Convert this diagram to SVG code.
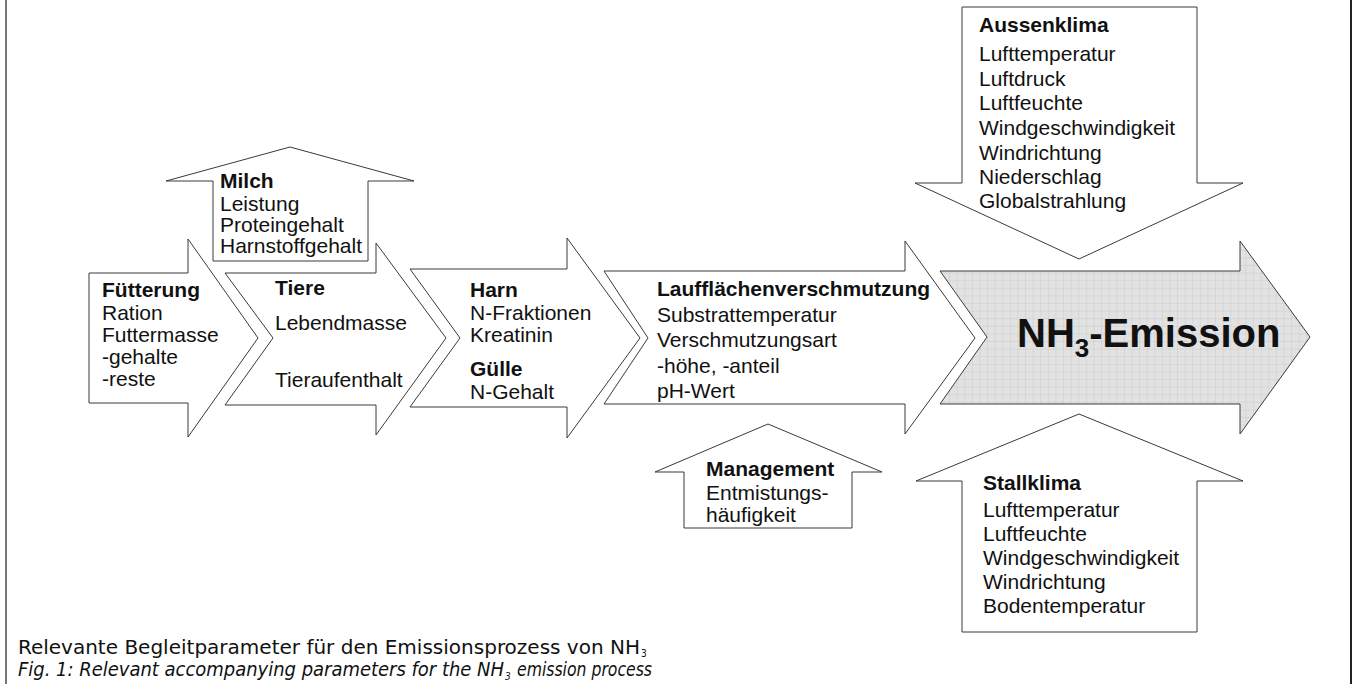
<svg xmlns="http://www.w3.org/2000/svg" width="1358" height="684" viewBox="0 0 1358 684">
<defs>
<pattern id="grid" width="7.6" height="7.6" patternUnits="userSpaceOnUse">
<rect width="7.6" height="7.6" fill="#e2e2e2"/>
<path d="M7.6 0V7.6M0 7.6H7.6" stroke="#c6c6c6" stroke-width="0.8" fill="none"/>
</pattern>
</defs>
<style>
.a{fill:#fff;stroke:#3a3a3a;stroke-width:1}
.t{font-family:"Liberation Sans",Arial,sans-serif;font-size:21px;fill:#111}
.b{font-weight:bold}
.cap{font-family:"Liberation Sans Narrow","DejaVu Sans Condensed","Liberation Sans",sans-serif;font-stretch:condensed;font-size:19px;fill:#111}
.sub{font-family:"Liberation Sans Narrow","DejaVu Sans Condensed","Liberation Sans",sans-serif;font-size:10px;fill:#111}
</style>
<rect width="1358" height="684" fill="#fff"/>
<g id="frame">
<line x1="6" y1="0" x2="6" y2="684" stroke="#777" stroke-width="2"/>
<line x1="1351" y1="0" x2="1351" y2="684" stroke="#222" stroke-width="2"/>
</g>
<g id="connectors"></g>
<g id="fuetterung">
<polygon class="a" points="89,273 188,273 188,239 258,338 188,437 188,403 89,403"/>
<text class="t" x="102" y="297"><tspan class="b">Fütterung</tspan><tspan x="102" y="320">Ration</tspan><tspan x="102" y="342">Futtermasse</tspan><tspan x="102" y="364">-gehalte</tspan><tspan x="102" y="386">-reste</tspan></text>
</g>
<g id="milch">
<polygon class="a" points="213,261 213,181 166,181 290,147 414,181 368,181 368,261"/>
<text class="t" x="220" y="188"><tspan class="b">Milch</tspan><tspan x="220" y="211">Leistung</tspan><tspan x="220" y="232">Proteingehalt</tspan><tspan x="220" y="253">Harnstoffgehalt</tspan></text>
</g>
<g id="tiere">
<polygon class="a" points="225,273 376,273 376,243 446,338 376,435 376,405 225,405 273,338"/>
<text class="t" x="275" y="295"><tspan class="b">Tiere</tspan><tspan x="275" y="330">Lebendmasse</tspan><tspan x="275" y="387">Tieraufenthalt</tspan></text>
</g>
<g id="harn">
<polygon class="a" points="410,269 567,269 567,238 640,338 567,438 567,407 410,407 460,338"/>
<text class="t" x="470" y="297"><tspan class="b">Harn</tspan><tspan x="470" y="320">N-Fraktionen</tspan><tspan x="470" y="342">Kreatinin</tspan><tspan class="b" x="470" y="376">Gülle</tspan><tspan x="470" y="399">N-Gehalt</tspan></text>
</g>
<g id="laufflaeche">
<polygon class="a" points="604,271 905,271 905,241 975,338 905,434 905,404 604,404 648,338"/>
<text class="t" x="657" y="296"><tspan class="b">Laufflächenverschmutzung</tspan><tspan x="657" y="322">Substrattemperatur</tspan><tspan x="657" y="347">Verschmutzungsart</tspan><tspan x="657" y="373">-höhe, -anteil</tspan><tspan x="657" y="398">pH-Wert</tspan></text>
</g>
<g id="management">
<polygon class="a" points="684,528 684,472 655,472 768,424 882,472 852,472 852,528"/>
<text class="t" x="706" y="476"><tspan class="b">Management</tspan><tspan x="706" y="500">Entmistungs-</tspan><tspan x="706" y="522">häufigkeit</tspan></text>
</g>
<g id="emission">
<polygon points="940,271 1240,271 1240,241 1310,337 1240,434 1240,404 940,404 987,337" fill="url(#grid)" stroke="#3a3a3a" stroke-width="1"/>
<text x="1017" y="347" font-family="Liberation Sans,Arial,sans-serif" font-weight="bold" font-size="40" fill="#111">NH<tspan font-size="26" dy="10">3</tspan><tspan dy="-10">-Emission</tspan></text>
</g>
<g id="aussenklima">
<polygon class="a" points="962,7 1197,7 1197,183 1243,183 1079,259 915,183 962,183"/>
<text class="t" x="979" y="32"><tspan class="b">Aussenklima</tspan><tspan x="979" y="61">Lufttemperatur</tspan><tspan x="979" y="86">Luftdruck</tspan><tspan x="979" y="110">Luftfeuchte</tspan><tspan x="979" y="135">Windgeschwindigkeit</tspan><tspan x="979" y="160">Windrichtung</tspan><tspan x="979" y="184">Niederschlag</tspan><tspan x="979" y="208">Globalstrahlung</tspan></text>
</g>
<g id="stallklima">
<polygon class="a" points="962,632 962,481 916,481 1079,414 1243,481 1197,481 1197,632"/>
<text class="t" x="983" y="490"><tspan class="b">Stallklima</tspan><tspan x="983" y="517">Lufttemperatur</tspan><tspan x="983" y="541">Luftfeuchte</tspan><tspan x="983" y="565">Windgeschwindigkeit</tspan><tspan x="983" y="589">Windrichtung</tspan><tspan x="983" y="613">Bodentemperatur</tspan></text>
</g>
<g id="caption">
<text class="cap" x="18" y="654" textLength="622" lengthAdjust="spacingAndGlyphs">Relevante Begleitparameter für den Emissionsprozess von NH</text>
<text class="sub" x="641" y="657">3</text>
<text class="cap" x="18" y="676" font-style="italic" textLength="486" lengthAdjust="spacingAndGlyphs">Fig. 1: Relevant accompanying parameters for the NH</text>
<text class="sub" x="505" y="680" font-style="italic">3</text>
<text class="cap" x="517" y="676" font-style="italic" textLength="135" lengthAdjust="spacingAndGlyphs">emission process</text>
</g>
</svg>
